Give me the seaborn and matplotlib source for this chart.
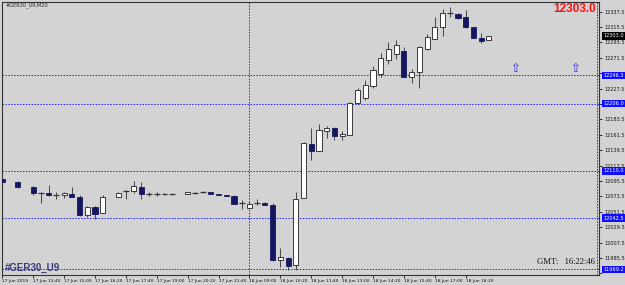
import matplotlib
matplotlib.use("Agg")
import matplotlib.pyplot as plt
import matplotlib.transforms as mtransforms
import seaborn as sns
import numpy as np
import pandas as pd

# ---------------- data ----------------
symbol_title = "#GER30_U9,M20"
watermark = "#GER30_U9"
bid_price = 12303.0
gmt_text = "GMT:   16:22:46"

tick_labels = ["17 Jun 2019", "17 Jun 13:40", "17 Jun 15:00", "17 Jun 16:20",
               "17 Jun 17:40", "17 Jun 19:00", "17 Jun 20:20", "17 Jun 21:40",
               "18 Jun 09:00", "18 Jun 10:20", "18 Jun 11:40", "18 Jun 13:00",
               "18 Jun 14:20", "18 Jun 15:40", "18 Jun 17:00", "18 Jun 18:20"]
tick_step = 4

N = None
opens = [12098.5, N, 12094.2, N, 12087.1, 12078.5, 12078.5, 12075.6, 12075.6, 12077.1,
         12072.8, 12047.0, 12058.5, 12049.9, N, 12072.8, 12081.4, 12081.4, 12087.1, 12077.1,
         12077.1, 12077.1, 12077.1, N, 12077.1, 12078.5, 12079.9, 12079.9, 12077.1, 12075.6,
         12074.2, 12064.2, 12057.0, 12064.2, 12064.2, 12061.3, 11982.6, 11985.5, 11975.5, 12071.3,
         12148.6, 12138.6, 12167.2, 12171.5, 12160.1, 12161.5, 12207.3, 12214.4, 12231.6, 12248.8,
         12268.8, 12277.4, 12281.7, 12244.5, 12251.6, 12284.6, 12298.9, 12316.0, 12336.1, 12334.6,
         12330.3, 12316.0, 12300.3, 12297.4]
highs = [12098.5, N, 12095.7, N, 12088.5, 12079.9, 12090.0, 12079.9, 12079.9, 12087.1,
         12075.6, 12059.9, 12059.9, 12075.6, N, 12079.9, 12082.8, 12095.7, 12094.2, 12079.9,
         12079.9, 12078.5, 12077.1, N, 12079.9, 12079.9, 12081.4, 12079.9, 12077.1, 12075.6,
         12075.6, 12068.5, 12067.0, 12069.9, 12065.6, 12064.2, 11999.8, 11986.9, 12079.9, 12151.5,
         12171.5, 12177.2, 12174.4, 12172.9, 12167.2, 12208.0, 12228.7, 12240.2, 12260.2, 12278.8,
         12294.6, 12297.4, 12287.4, 12255.9, 12288.8, 12306.0, 12330.3, 12341.8, 12344.7, 12336.1,
         12340.4, 12316.0, 12307.5, 12303.2]
lows = [12094.2, N, 12085.6, N, 12075.6, 12064.2, 12074.2, 12069.9, 12071.3, 12072.8,
        12045.6, 12044.1, 12041.3, 12049.9, N, 12072.8, 12069.9, 12078.5, 12069.9, 12074.2,
        12074.2, 12075.6, 12075.6, N, 12077.1, 12077.1, 12078.5, 12077.1, 12075.6, 12074.2,
        12062.8, 12055.6, 12057.0, 12061.3, 12061.3, 11981.2, 11972.6, 11968.3, 11968.3, 12071.3,
        12125.7, 12138.6, 12157.2, 12154.3, 12154.3, 12161.5, 12205.9, 12211.6, 12228.7, 12244.5,
        12263.0, 12270.2, 12244.5, 12235.9, 12228.7, 12283.1, 12298.9, 12303.2, 12330.3, 12327.5,
        12314.6, 12300.3, 12293.1, 12297.4]
closes = [12094.2, N, 12087.1, N, 12078.5, 12078.5, 12075.6, 12075.6, 12078.5, 12072.8,
          12047.0, 12058.5, 12048.4, 12072.8, N, 12078.5, 12081.4, 12088.5, 12077.1, 12077.1,
          12077.1, 12077.1, 12077.1, N, 12079.9, 12078.5, 12079.9, 12077.1, 12075.6, 12074.2,
          12062.8, 12064.2, 12062.8, 12064.2, 12061.3, 11982.6, 11986.9, 11974.0, 12069.9, 12150.0,
          12138.6, 12168.6, 12171.5, 12160.1, 12162.9, 12207.3, 12225.9, 12233.0, 12254.5, 12271.6,
          12284.6, 12290.3, 12244.5, 12251.6, 12287.4, 12301.7, 12316.0, 12336.1, 12336.1, 12328.9,
          12316.0, 12300.3, 12296.0, 12303.0]

level_prices = [12246.3, 12206.0, 12110.0, 12042.5, 11969.2]
level_labels = ["12246.3", "12206.0", "12110.0", "12042.5", "11969.2"]

ytick_values = [12337.5, 12315.5, 12293.5, 12271.5, 12249.5, 12227.5, 12205.5, 12183.5,
                12161.5, 12139.5, 12117.5, 12095.5, 12073.5, 12051.5, 12029.5, 12007.5,
                11985.5, 11963.5]
# tick labels that the level boxes hide in the chart
hidden_ticks = [12249.5, 12205.5, 11963.5]

arrow_bars = [66.4, 74.1]
arrow_prices = [12246.3, 12246.3]
day_separator_bar = 32
shift_line_bar = 77.0

# ---------------- style ----------------
sns.set_theme(style="ticks")
plt.rcParams['font.family'] = ['DejaVu Sans']
BG = '#d3d3d3'
BEAR = '#161660'
EDGE = '#1e1e1e'

W, H = 625, 285
fig = plt.figure(figsize=(W / 100, H / 100), dpi=100, facecolor=BG)
left, right, top, bottom = 1.7, 599.3, 1.7, 275.0
ax = fig.add_axes([left / W, 1 - bottom / H, (right - left) / W, (bottom - top) / H])
ax.set_facecolor(BG)

df = pd.DataFrame({"o": opens, "h": highs, "l": lows, "c": closes}, dtype=float)
df["i"] = np.arange(len(df))
df = df.dropna()

# wicks
ax.vlines(df["i"], df["l"], df["h"], color='#444444', lw=0.7, zorder=3)
body = (df["c"] - df["o"]).abs()
doji = df[body < 1.0]
ax.hlines(doji["o"], doji["i"] - 0.38, doji["i"] + 0.38, color='#333333', lw=0.9, zorder=4)
up = df[(df["c"] > df["o"]) & (body >= 1.0)]
dn = df[(df["c"] < df["o"]) & (body >= 1.0)]
ax.bar(up["i"], up["c"] - up["o"], bottom=up["o"], width=0.66, color='white',
       edgecolor=EDGE, linewidth=0.6, zorder=5)
ax.bar(dn["i"], dn["o"] - dn["c"], bottom=dn["c"], width=0.66, color=BEAR,
       edgecolor=BEAR, linewidth=0.6, zorder=5)

# horizontal levels
for p in level_prices:
    ax.axhline(p, color='#2020ff', lw=0.7, ls=(0, (1.5, 1.5)), zorder=2)
ax.axvline(day_separator_bar, color='#333333', lw=0.7, ls=(0, (1.5, 1.5)), zorder=1)
ax.axvline(shift_line_bar, color='#333333', lw=0.7, ls=(0, (1.5, 1.5)), zorder=1)

# arrows
for b, p in zip(arrow_bars, arrow_prices):
    ax.text(b, p, "\u21e7", color='#2020ff', fontsize=8.5, ha='center', va='bottom',
            zorder=6)

ax.set_xlim(-0.08, 77.3)
ax.set_ylim(11961.1, 12351.8)

# axes ticks
ax.yaxis.tick_right()
ax.set_yticks(ytick_values)
ax.set_yticklabels(["" if v in hidden_ticks else f"{v:.1f}" for v in ytick_values])
ax.tick_params(axis='y', labelsize=3.6, length=2.5, width=0.6, pad=1, colors='#111111')
xt = list(range(0, tick_step * len(tick_labels), tick_step))
ax.set_xticks(xt)
ax.set_xticklabels(tick_labels, ha='left')
ax.tick_params(axis='x', labelsize=3.2, length=2.0, width=0.6, pad=0.8, colors='#111111')
for s in ax.spines.values():
    s.set_color('#333333')
    s.set_linewidth(0.8)

yt = mtransforms.blended_transform_factory(ax.transAxes, ax.transData)
for p, lab in zip(level_prices, level_labels):
    ax.text(1.0065, p, lab, transform=yt, ha='left', va='center', fontsize=3.6,
            color='white', zorder=20, clip_on=False,
            bbox=dict(boxstyle='square,pad=0.25', fc='#1010ff', ec='none'))
ax.text(1.0065, bid_price, f"{bid_price:.1f}", transform=yt, ha='left', va='center',
        fontsize=3.6, color='white', zorder=20, clip_on=False,
        bbox=dict(boxstyle='square,pad=0.25', fc='black', ec='none'))

# texts
fig.text(6 / W, 1 - 5 / H, symbol_title, fontsize=3.6, color='#222222', ha='left', va='center')
fig.text(596 / W, 1 - 9.5 / H, f"{bid_price:.1f}", fontsize=8.5, fontweight='bold',
         color='#ff1010', ha='right', va='center', family='Liberation Sans')
fig.text(5 / W, 1 - 268 / H, watermark, fontsize=7, fontweight='bold',
         color='#3a3a80', ha='left', va='center', family='Liberation Sans')
fig.text(595 / W, 1 - 262 / H, gmt_text, fontsize=6.2, color='#111111', ha='right',
         va='center', family='Liberation Serif')

fig.savefig("out.png", dpi=100, facecolor=BG)
